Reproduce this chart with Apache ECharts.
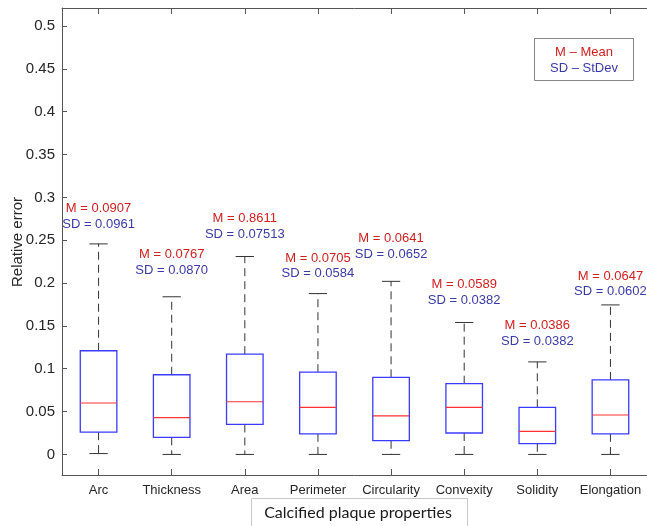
<html>
<head>
<meta charset="utf-8">
<script src="https://cdn.jsdelivr.net/npm/echarts@6/dist/echarts.min.js"></script>
</head>
<body>
<style>
    html, body, #main {
        width: 100%;
        height: 100%;
        margin: 0;
        background: #fff;
    }
</style>
<div id="main"></div>

<script>
// categories and box statistics
var props = ['Arc', 'Thickness', 'Area', 'Perimeter', 'Circularity', 'Convexity', 'Solidity', 'Elongation'];
var lowW  = [0.001, 0.000, 0.000, 0.000, 0.000, 0.000, 0.000, 0.000];
var q1    = [0.026, 0.020, 0.035, 0.024, 0.016, 0.025, 0.0125, 0.024];
var med   = [0.060, 0.043, 0.0615, 0.055, 0.045, 0.055, 0.027, 0.046];
var q3    = [0.121, 0.093, 0.117, 0.096, 0.090, 0.0826, 0.055, 0.087];
var highW = [0.2457, 0.184, 0.231, 0.1877, 0.202, 0.154, 0.108, 0.1745];

// annotation texts, and the value where the SD line sits
var meanTxt = ['0.0907', '0.0767', '0.8611', '0.0705', '0.0641', '0.0589', '0.0386', '0.0647'];
var sdTxt   = ['0.0961', '0.0870', '0.07513', '0.0584', '0.0652', '0.0382', '0.0382', '0.0602'];
var noteAt  = [0.2687, 0.215, 0.257, 0.211, 0.2336, 0.180, 0.1324, 0.190];

var yTicks = [0, 0.05, 0.1, 0.15, 0.2, 0.25, 0.3, 0.35, 0.4, 0.45, 0.5];

var rows = props.map(function (p, i) {
    return [i, lowW[i], q1[i], med[i], q3[i], highW[i], noteAt[i]];
});

var myChart = echarts.init(document.getElementById('main'));

function renderBox(params, api) {
    var i = api.value(0);
    var lo = api.coord([i, api.value(1)]);
    var b1 = api.coord([i, api.value(2)]);
    var md = api.coord([i, api.value(3)]);
    var b3 = api.coord([i, api.value(4)]);
    var hi = api.coord([i, api.value(5)]);
    var nt = api.coord([i, api.value(6)]);
    var band = api.size([1, 0])[0];
    var hw = band * 0.25, cw = band * 0.125;
    var x = md[0];
    var dash = {stroke: '#333', lineWidth: 1, lineDash: [8, 5]};
    var solid = {stroke: '#333', lineWidth: 1};
    return {
        type: 'group',
        children: [
            {type: 'line', shape: {x1: x, y1: b3[1], x2: x, y2: hi[1]}, style: dash},
            {type: 'line', shape: {x1: x, y1: b1[1], x2: x, y2: lo[1]}, style: dash},
            {type: 'line', shape: {x1: x - cw, y1: hi[1], x2: x + cw, y2: hi[1]}, style: solid},
            {type: 'line', shape: {x1: x - cw, y1: lo[1], x2: x + cw, y2: lo[1]}, style: solid},
            {type: 'rect', shape: {x: x - hw, y: b3[1], width: hw * 2, height: b1[1] - b3[1]},
                style: {fill: 'none', stroke: '#3b3bff', lineWidth: 1.3}},
            {type: 'line', shape: {x1: x - hw, y1: md[1], x2: x + hw, y2: md[1]},
                style: {stroke: '#ff3030', lineWidth: 1.2}},
            {type: 'text', x: x, y: nt[1] - 15.5, style: {text: 'M = ' + meanTxt[i], fill: '#cf1f1f',
                font: '13px "Liberation Sans", Arial, sans-serif', align: 'center', verticalAlign: 'middle'}},
            {type: 'text', x: x, y: nt[1], style: {text: 'SD = ' + sdTxt[i], fill: '#3a3aa6',
                font: '13px "Liberation Sans", Arial, sans-serif', align: 'center', verticalAlign: 'middle'}}
        ]
    };
}

var axisCol = '#555';

option = {
    animation: false,
    backgroundColor: '#fff',
    grid: {left: 62, top: 8, bottom: 51, width: 592},
    xAxis: [
        {
            type: 'category',
            data: props,
            axisLine: {onZero: false, lineStyle: {color: axisCol}},
            axisTick: {show: true, inside: true, length: 6, interval: 0, alignWithLabel: true,
                lineStyle: {color: axisCol}},
            axisLabel: {interval: 0, color: '#262626', fontSize: 13, fontFamily: '"Liberation Sans", Arial', margin: 9}
        },
        {
            type: 'category',
            position: 'top',
            data: props,
            axisLine: {onZero: false, lineStyle: {color: axisCol}},
            axisTick: {show: true, inside: true, length: 6, interval: 0, alignWithLabel: true,
                lineStyle: {color: axisCol}},
            axisLabel: {show: false}
        }
    ],
    yAxis: {
        type: 'value',
        min: -0.024,
        max: 0.521,
        splitLine: {show: false},
        axisLine: {show: true, lineStyle: {color: axisCol}},
        axisTick: {show: true, inside: true, length: 5, customValues: yTicks, lineStyle: {color: axisCol}},
        axisLabel: {customValues: yTicks, color: '#262626', fontSize: 15,
            fontFamily: '"Liberation Sans", Arial', margin: 7}
    },
    graphic: [
        {type: 'text', x: 18, y: 242, rotation: Math.PI / 2,
            style: {text: 'Relative error', fill: '#262626', font: '15px "Liberation Sans", Arial',
                align: 'center', verticalAlign: 'middle'}},
        {type: 'rect', shape: {x: 534.5, y: 38.5, width: 99, height: 42},
            style: {fill: '#fff', stroke: '#888', lineWidth: 1}},
        {type: 'text', x: 584, y: 52, style: {text: 'M \u2013 Mean', fill: '#cf1f1f',
            font: '13px "Liberation Sans", Arial', align: 'center', verticalAlign: 'middle'}},
        {type: 'text', x: 584, y: 68.5, style: {text: 'SD \u2013 StDev', fill: '#3a3aa6',
            font: '13px "Liberation Sans", Arial', align: 'center', verticalAlign: 'middle'}},
        {type: 'rect', shape: {x: 251.5, y: 498.5, width: 216, height: 40},
            style: {fill: '#fff', stroke: '#c8c8c8', lineWidth: 1}},
        {type: 'text', x: 358, y: 513, style: {text: 'Calcified plaque properties', fill: '#1a1a1a',
            font: '16px Lato, "Open Sans", sans-serif', align: 'center', verticalAlign: 'middle'}}
    ],
    series: [
        {
            type: 'custom',
            renderItem: renderBox,
            data: rows,
            encode: {x: 0, y: [1, 2, 3, 4, 5, 6]}
        }
    ]
};
myChart.setOption(option);
</script>
</body>
</html>
